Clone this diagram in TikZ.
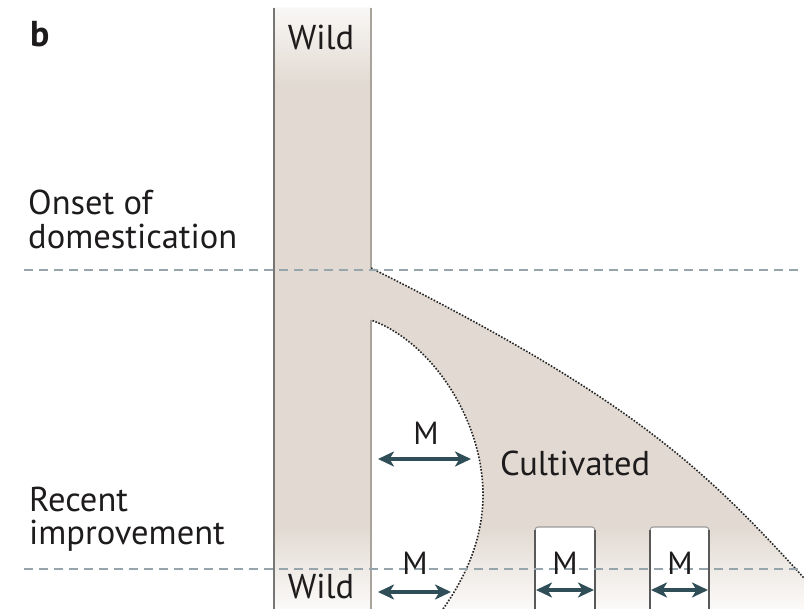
\documentclass[tikz,border=0pt]{standalone}
\usepackage{fontspec}
\setmainfont{PT Sans}
\usetikzlibrary{arrows.meta}
\definecolor{beige}{RGB}{226,218,210}
\definecolor{dashcol}{RGB}{150,165,172}
\definecolor{arrcol}{RGB}{48,78,88}
\definecolor{txt}{RGB}{30,27,28}
\definecolor{edgecol}{RGB}{120,118,116}
\definecolor{lightedge}{RGB}{170,163,155}
\tikzset{
  lbl/.style={inner sep=0pt, text=txt, font=\fontsize{34.5}{40}\selectfont},
  mlbl/.style={inner sep=0pt, text=txt, font=\fontsize{32}{36}\selectfont, anchor=base},
  marrow/.style={draw=arrcol, line width=3.8pt, {Stealth[length=16pt,width=15pt,inset=4.5pt]}-{Stealth[length=16pt,width=15pt,inset=4.5pt]}},
  timeline/.style={draw=dashcol, line width=2pt, dash pattern=on 9pt off 6pt},
  dotcurve/.style={draw=black!85, line width=1.6pt, dash pattern=on 1.6pt off 1.6pt},
  notchside/.style={draw=black!65, line width=1.8pt},
  notchtop/.style={draw=black!40, line width=1.1pt, rounded corners=3pt}
}
\begin{document}
\begin{tikzpicture}[x=1pt,y=-1pt]
\useasboundingbox (0,0) rectangle (804,609);
% beige region with fades
\begin{scope}
\clip (274,8) -- (371,8) -- (371,268) .. controls (631,398) and (704,468) .. (804,578)
  -- (804,609) -- (709,609) -- (709,527) -- (650,527) -- (650,609)
  -- (595,609) -- (595,527) -- (535,527) -- (535,609) -- (443,609)
  .. controls (460,585) and (483,545) .. (483,495)
  .. controls (483,420) and (432,342) .. (371,320)
  -- (371,609) -- (274,609) -- cycle;
\fill[beige] (0,0) rectangle (804,609);
\shade[top color=beige!20, bottom color=beige] (274,7) rectangle (371,85);
\shade[top color=beige, bottom color=beige!12] (0,527) rectangle (804,610);
\end{scope}
% borders
\draw[edgecol, line width=1.8pt] (274,8) -- (274,609);
\draw[lightedge, line width=1.2pt] (371,8) -- (371,268);
\draw[lightedge, line width=1.2pt] (371,320) -- (371,609);
\draw[dotcurve] (371,268) .. controls (631,398) and (704,468) .. (804,578);
\draw[dotcurve] (443,609) .. controls (460,585) and (483,545) .. (483,495)
  .. controls (483,420) and (432,342) .. (371,320);
% notches
\draw[notchtop] (535,532) -- (535,527) -- (595,527) -- (595,532);
\draw[notchside] (535,530) -- (535,609);
\draw[notchside] (595,530) -- (595,609);
\draw[notchtop] (650,532) -- (650,527) -- (709,527) -- (709,532);
\draw[notchside] (650,530) -- (650,609);
\draw[notchside] (709,530) -- (709,609);
% time lines
\coordinate (d1a) at (24,270);
\coordinate (d1b) at (804,270);
\coordinate (d2a) at (24,569);
\coordinate (d2b) at (804,569);
\draw[timeline] (d1a) -- (d1b);
\draw[timeline] (d2a) -- (d2b);
% labels
\node[lbl, font=\fontsize{36}{40}\selectfont\bfseries, anchor=base west] (b) at (30,47) {b};
\node[lbl, anchor=base] (wildtop) at (321,50) {Wild};
\node[lbl, anchor=base west] (onset) at (28,215) {Onset of};
\node[lbl, anchor=base west] (domest) at (28,249) {domestication};
\node[lbl, anchor=base west] (recent) at (29,512) {Recent};
\node[lbl, anchor=base west] (improv) at (29,545) {improvement};
\node[lbl, anchor=base] (wildbot) at (321,598) {Wild};
\node[lbl, anchor=base west] (cult) at (500,476) {Cultivated};
\node[mlbl] (m1) at (426,445) {M};
\node[mlbl] (m2) at (415,575) {M};
\node[mlbl] (m3) at (565,575) {M};
\node[mlbl] (m4) at (680,575) {M};
% arrows
\coordinate (a1l) at (378,459);
\coordinate (a1r) at (471,459);
\coordinate (a2l) at (378,592);
\coordinate (a2r) at (451,592);
\coordinate (a3l) at (536,590);
\coordinate (a3r) at (594,590);
\coordinate (a4l) at (651,590);
\coordinate (a4r) at (708,590);
\draw[marrow] (a1l) -- (a1r);
\draw[marrow] (a2l) -- (a2r);
\draw[marrow] (a3l) -- (a3r);
\draw[marrow] (a4l) -- (a4r);
\end{tikzpicture}
\end{document}
